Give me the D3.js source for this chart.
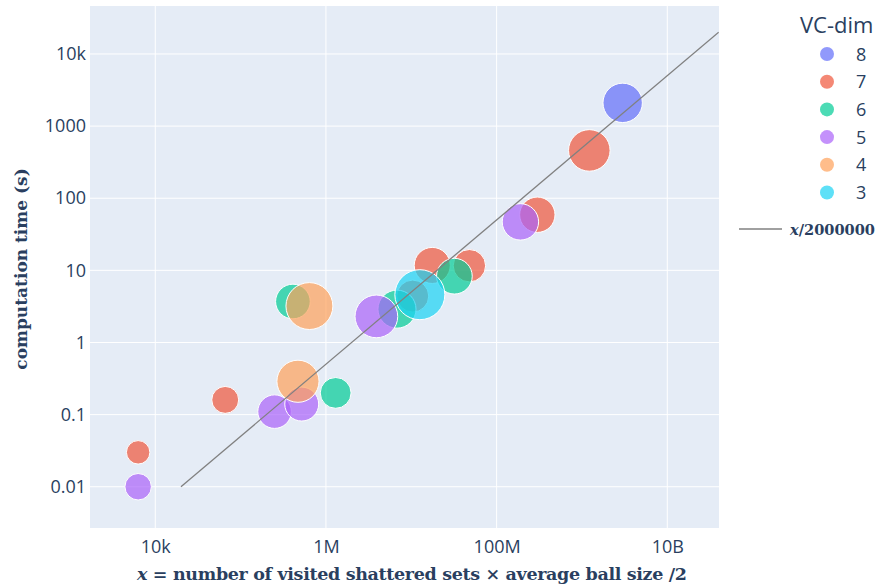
<!DOCTYPE html>
<html>
<head>
<meta charset="utf-8">
<script src="https://cdn.jsdelivr.net/npm/d3@7"></script>
<style>
  body { margin: 0; background: #fff; }
  .container { width: 877px; height: 587px; }
</style>
</head>
<body>
<div class="container"></div>
<script>
// data
const vcDims = [8, 7, 6, 5, 4, 3];
const dimColors = ['#636efa', '#EF553B', '#00cc96', '#ab63fa', '#FFA15A', '#19d3f3'];

const pointDim  = [5, 7, 7, 5, 5, 4, 6, 6, 4, 5, 6, 3, 7, 7, 7, 6, 5, 7, 7, 8];
const pointX    = [6.3e3, 6.3e3, 6.6e4, 2.5e5, 5.2e5, 4.7e5, 1.3e6, 4.1e5, 6.4e5, 3.9e6,
                   6.8e6, 1.26e7, 1.04e7, 1.76e7, 4.8e7, 3.2e7, 1.9e8, 3.0e8, 1.22e9, 3.0e9];
const pointY    = [0.010, 0.030, 0.16, 0.11, 0.14, 0.29, 0.20, 3.7, 3.2, 2.3,
                   2.9, 4.6, 4.4, 11.7, 11.6, 8.3, 47, 59, 460, 2100];
const pointSize = [28, 22, 29, 45, 46, 71, 38, 48, 88, 73,
                   58, 100, 41, 52, 42, 51, 53, 50, 69, 62];

const fitDivisor = 2000000;
const fitRange = [2e4, 4e10];

const xTicks = [1e4, 1e6, 1e8, 1e10];
const xTickLabels = ['10k', '1M', '100M', '10B'];
const yTicks = [0.01, 0.1, 1, 10, 100, 1000, 10000];
const yTickLabels = ['0.01', '0.1', '1', '10', '100', '1000', '10k'];

// initial setup
const w = 877;
const h = 587;
const [margin_top, margin_left, margin_bottom, margin_right] = [6, 90, 59, 158];
const plotWidth = w - margin_left - margin_right;
const plotHeight = h - margin_top - margin_bottom;

const tickFont = '"Open Sans", "Noto Sans", sans-serif';
const mathFont = '"DejaVu Serif", "Liberation Serif", serif';
const textColor = '#2a3f5f';

const svg = d3.select('.container')
              .append('svg')
              .attr('width', w)
              .attr('height', h);

const plot = svg.append('g')
                .attr('transform', `translate(${margin_left}, ${margin_top})`);

plot.append('rect')
    .attr('width', plotWidth)
    .attr('height', plotHeight)
    .attr('fill', '#E5ECF6');

// scales
const x = d3.scaleLog()
            .domain([Math.pow(10, 3.235), Math.pow(10, 10.606)])
            .range([0, plotWidth]);
const y = d3.scaleLog()
            .domain([Math.pow(10, -2.572), Math.pow(10, 4.665)])
            .range([plotHeight, 0]);
const r = d3.scaleSqrt()
            .domain([0, 100])
            .range([0, 25]);
const color = d3.scaleOrdinal()
                .domain(vcDims)
                .range(dimColors);

// grid
plot.append('g')
    .selectAll('line')
    .data(xTicks)
    .join('line')
    .attr('x1', d => x(d)).attr('x2', d => x(d))
    .attr('y1', 0).attr('y2', plotHeight)
    .attr('stroke', '#fff').attr('stroke-width', 1);

plot.append('g')
    .selectAll('line')
    .data(yTicks)
    .join('line')
    .attr('x1', 0).attr('x2', plotWidth)
    .attr('y1', d => y(d)).attr('y2', d => y(d))
    .attr('stroke', '#fff').attr('stroke-width', 1);

// axes
const xAxis = d3.axisBottom(x)
                .tickValues(xTicks)
                .tickFormat((d, i) => xTickLabels[i])
                .tickSize(0)
                .tickPadding(12);
const yAxis = d3.axisLeft(y)
                .tickValues(yTicks)
                .tickFormat((d, i) => yTickLabels[i])
                .tickSize(0)
                .tickPadding(4);

const xGroup = plot.append('g')
                   .attr('transform', `translate(0, ${plotHeight})`)
                   .call(xAxis);
const yGroup = plot.append('g').call(yAxis);

[xGroup, yGroup].forEach(g => {
    g.select('.domain').remove();
    g.selectAll('text')
     .attr('fill', textColor)
     .style('font-family', tickFont)
     .style('font-size', '18px');
});

// bubbles, drawn trace by trace like the original
const points = pointX.map((d, i) => ({
    x: d, y: pointY[i], dim: pointDim[i], size: pointSize[i]
}));
const ordered = vcDims.flatMap(dim => points.filter(p => p.dim === dim));

svg.append('clipPath').attr('id', 'plotclip')
   .append('rect').attr('width', plotWidth).attr('height', plotHeight);

const marks = plot.append('g').attr('clip-path', 'url(#plotclip)');

// fit line x / 2000000
const fitLine = d3.line()
                  .x(d => x(d))
                  .y(d => y(d / fitDivisor));

marks.selectAll('circle')
     .data(ordered)
     .join('circle')
     .attr('cx', d => x(d.x))
     .attr('cy', d => y(d.y))
     .attr('r', d => r(d.size))
     .attr('fill', d => color(d.dim))
     .attr('fill-opacity', 0.7)
     .attr('stroke', '#fff')
     .attr('stroke-width', 1);

marks.append('path')
     .datum(fitRange)
     .attr('d', fitLine)
     .attr('fill', 'none')
     .attr('stroke', 'grey')
     .attr('stroke-width', 1.3);

// axis titles
const xTitle = svg.append('text')
                  .attr('x', 412)
                  .attr('y', 580)
                  .attr('text-anchor', 'middle')
                  .attr('textLength', 550)
                  .attr('lengthAdjust', 'spacing')
                  .attr('fill', textColor)
                  .style('font-family', mathFont)
                  .style('font-weight', 'bold')
                  .style('font-size', '17.5px');
xTitle.append('tspan').style('font-style', 'italic').text('x');
xTitle.append('tspan').text(' = number of visited shattered sets  ×  average ball size /2');

svg.append('text')
   .attr('transform', `translate(27, ${margin_top + plotHeight / 2 + 2}) rotate(-90)`)
   .attr('text-anchor', 'middle')
   .attr('fill', textColor)
   .style('font-family', mathFont)
   .style('font-weight', 'bold')
   .style('font-size', '17px')
   .text('computation time (s)');

// legend
const legend = svg.append('g');
legend.append('text')
      .attr('x', 800)
      .attr('y', 33)
      .attr('fill', textColor)
      .style('font-family', tickFont)
      .style('font-size', '22px')
      .text('VC-dim');

const items = legend.selectAll('g.item')
                    .data(vcDims)
                    .join('g')
                    .attr('class', 'item')
                    .attr('transform', (d, i) => `translate(827, ${54 + i * 27.7})`);
items.append('circle')
     .attr('r', 7)
     .attr('fill', d => color(d))
     .attr('fill-opacity', 0.7);
items.append('text')
     .attr('x', 29)
     .attr('y', 6.5)
     .attr('fill', textColor)
     .style('font-family', tickFont)
     .style('font-size', '18px')
     .text(d => d);

legend.append('line')
      .attr('x1', 739).attr('x2', 782)
      .attr('y1', 229).attr('y2', 229)
      .attr('stroke', 'grey')
      .attr('stroke-width', 1.3);
const lineLabel = legend.append('text')
                        .attr('x', 790)
                        .attr('y', 235)
                        .attr('textLength', 85)
                        .attr('lengthAdjust', 'spacingAndGlyphs')
                        .attr('fill', textColor)
                        .style('font-family', mathFont)
                        .style('font-weight', 'bold')
                        .style('font-size', '15px');
lineLabel.append('tspan').style('font-style', 'italic').text('x');
lineLabel.append('tspan').text('/' + fitDivisor);
</script>
</body>
</html>
